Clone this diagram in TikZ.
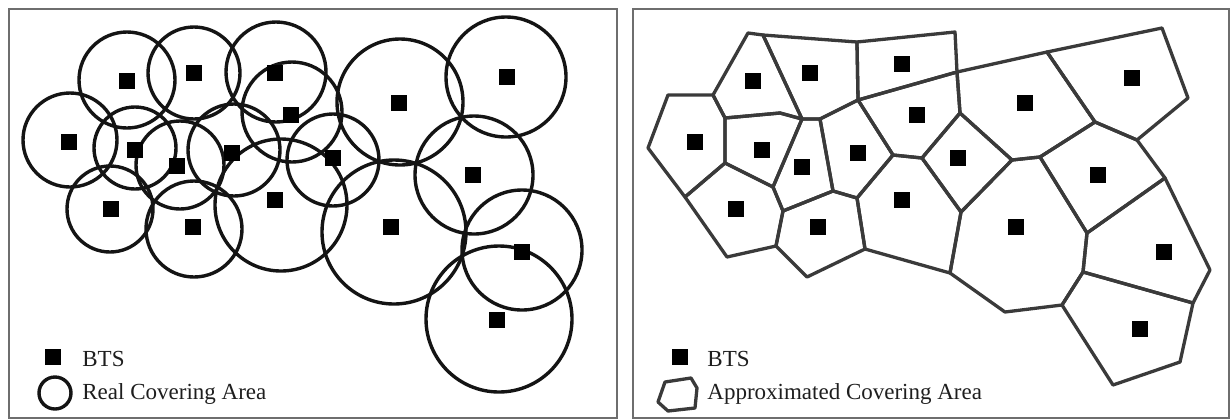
\documentclass[tikz,border=0pt]{standalone}
\usepackage{fontspec}
\setmainfont{Liberation Serif}
\definecolor{framegray}{HTML}{6E6E6E}
\definecolor{cellgray}{HTML}{3A3A3A}
\definecolor{circblack}{HTML}{141414}
\definecolor{txt}{HTML}{1E1E1E}
\tikzset{
  frame/.style={draw=framegray,line width=1.1pt},
  cover/.style={draw=circblack,line width=1.7pt},
  cell/.style={draw=cellgray,line width=1.65pt,line join=round},
  btsq/.style={fill=black,inner sep=0pt,minimum size=8pt,draw=none},
  lbl/.style={anchor=base west,inner sep=0pt,text=txt,font=\fontsize{11.5pt}{13pt}\selectfont}
}
\begin{document}
\begin{tikzpicture}[x=0.5pt,y=-0.5pt]
\useasboundingbox (0,0) rectangle (1231,419);
% frames
\draw[frame] (9,9) rectangle (617,418);
\draw[frame] (633,9) rectangle (1229,418);

% ---------- left panel: circles ----------
\foreach \cx/\cy/\r in {127/80/24, 194/73/23, 276/72/25, 292/112/25, 400/102/31.5,
  506/77/30, 70/140/23.5, 135/148/20.5, 180/165/22, 234/150/23, 333/160/23,
  474/175/29.5, 110/209/21.5, 194/229/24, 281/205/33, 394/232/36, 522/250/30, 499/319/36.5}
  \draw[cover] (\cx,\cy) circle[radius=\r pt];

% BTS squares, left
\foreach \n/\bx/\by in {1/127/81, 2/194/73, 3/275/73, 4/291/115, 5/399/103, 6/507/77,
  7/69/142, 8/135/150, 9/177/166, 10/232/153, 11/333/158, 12/473/175, 13/111/209,
  14/193/227, 15/275/200, 16/391/227, 17/522/252, 18/497/320}
  \node[btsq] (L\n) at (\bx,\by) {};

% legend left
\node[btsq] (legLsq) at (53,357) {};
\node[lbl] (legLbts) at (82,366) {BTS};
\draw[cover] (55,393) circle[radius=8pt];
\node[lbl] (legLarea) at (82,399) {Real Covering Area};

% ---------- right panel: cells ----------
\coordinate (V1) at (748,33);
\coordinate (V2) at (763,35);
\coordinate (V3) at (857,42);
\coordinate (V4) at (955,32);
\coordinate (V5) at (957,72);
\coordinate (V6) at (1047,52);
\coordinate (V7) at (1162,28);
\coordinate (V8) at (1188,98);
\coordinate (V9) at (1137,140);
\coordinate (V10) at (1095,122);
\coordinate (V11) at (1040,157);
\coordinate (V12) at (1012,160);
\coordinate (V13) at (960,113);
\coordinate (V14) at (858,100);
\coordinate (V15) at (922,158);
\coordinate (V16) at (893,155);
\coordinate (V17) at (820,119);
\coordinate (V18) at (802,119);
\coordinate (V19) at (780,113);
\coordinate (V20) at (725,118);
\coordinate (V21) at (713,95);
\coordinate (V22) at (668,95);
\coordinate (V23) at (648,148);
\coordinate (V24) at (685,197);
\coordinate (V25) at (725,163);
\coordinate (V26) at (773,187);
\coordinate (V27) at (783,211);
\coordinate (V28) at (833,191);
\coordinate (V29) at (857,198);
\coordinate (V30) at (961,212);
\coordinate (V31) at (1165,178);
\coordinate (V32) at (1087,233);
\coordinate (V33) at (1083,272);
\coordinate (V34) at (1210,270);
\coordinate (V35) at (1193,303);
\coordinate (V36) at (1180,362);
\coordinate (V37) at (1113,385);
\coordinate (V38) at (1062,305);
\coordinate (V39) at (1005,312);
\coordinate (V40) at (950,273);
\coordinate (V41) at (865,249);
\coordinate (V42) at (807,277);
\coordinate (V43) at (776,246);
\coordinate (V44) at (727,257);

\draw[cell] (V1)--(V2)--(V18)--(V19)--(V20)--(V21)--cycle;
\draw[cell] (V2)--(V3)--(V14)--(V17)--(V18)--cycle;
\draw[cell] (V3)--(V4)--(V5)--(V14)--cycle;
\draw[cell] (V5)--(V6)--(V10)--(V11)--(V12)--(V13)--cycle;
\draw[cell] (V6)--(V7)--(V8)--(V9)--(V10)--cycle;
\draw[cell] (V14)--(V5)--(V13)--(V15)--(V16)--cycle;
\draw[cell] (V13)--(V12)--(V30)--(V15)--cycle;
\draw[cell] (V21)--(V20)--(V25)--(V24)--(V23)--(V22)--cycle;
\draw[cell] (V20)--(V19)--(V18)--(V26)--(V25)--cycle;
\draw[cell] (V18)--(V17)--(V28)--(V27)--(V26)--cycle;
\draw[cell] (V17)--(V14)--(V16)--(V29)--(V28)--cycle;
\draw[cell] (V25)--(V26)--(V27)--(V43)--(V44)--(V24)--cycle;
\draw[cell] (V27)--(V28)--(V29)--(V41)--(V42)--(V43)--cycle;
\draw[cell] (V16)--(V15)--(V30)--(V40)--(V41)--(V29)--cycle;
\draw[cell] (V12)--(V11)--(V32)--(V33)--(V38)--(V39)--(V40)--(V30)--cycle;
\draw[cell] (V10)--(V9)--(V31)--(V32)--(V11)--cycle;
\draw[cell] (V32)--(V31)--(V34)--(V35)--(V33)--cycle;
\draw[cell] (V33)--(V35)--(V36)--(V37)--(V38)--cycle;

% BTS squares, right
\foreach \n/\bx/\by in {1/753/81, 2/810/73, 3/902/64, 4/1132/78, 5/1025/103, 6/917/115,
  7/695/142, 8/762/150, 9/802/167, 10/858/153, 11/958/158, 12/1098/175, 13/736/209,
  14/818/227, 15/902/200, 16/1016/227, 17/1164/252, 18/1140/329}
  \node[btsq] (R\n) at (\bx,\by) {};

% legend right
\node[btsq] (legRsq) at (680,357) {};
\node[lbl] (legRbts) at (707,366) {BTS};
\draw[cell] (665,382)--(691,378)--(697,388)--(695,408)--(668,411)--(658,402)--cycle;
\node[lbl] (legRarea) at (707,399) {Approximated Covering Area};
\end{tikzpicture}
\end{document}
